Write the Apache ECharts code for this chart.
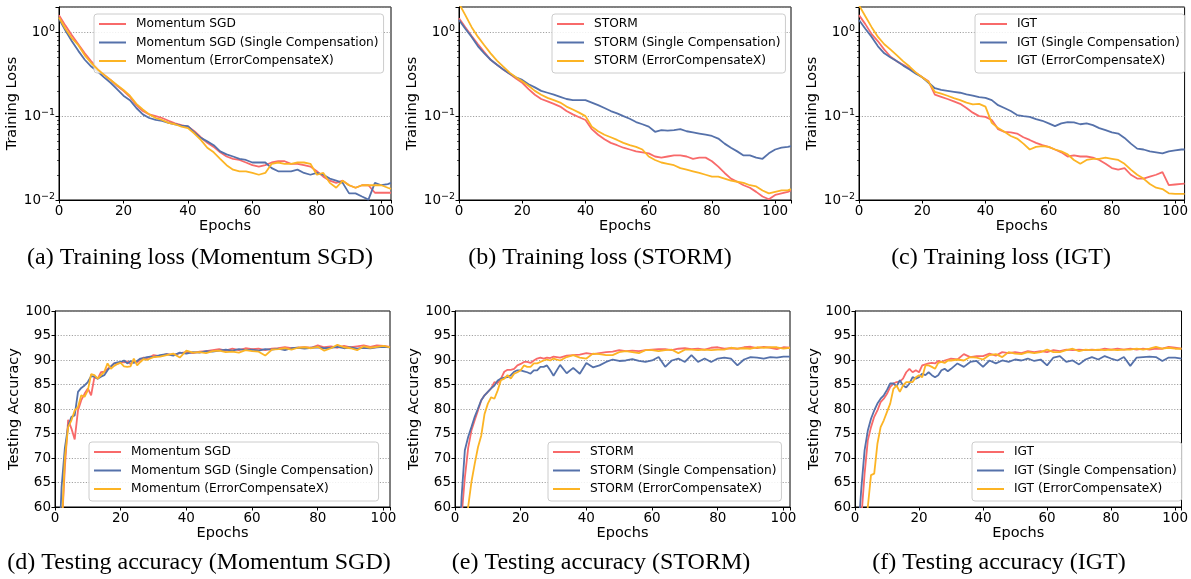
<!DOCTYPE html>
<html>
<head>
<meta charset="utf-8">
<script src="https://cdn.jsdelivr.net/npm/echarts@6/dist/echarts.min.js"></script>
<style>html,body{margin:0;padding:0;background:#fff;}#c{width:1191px;height:579px;}</style>
</head>
<body>
<div id="c"></div>
<script>
// ---------- names ----------
const namesMom = ['Momentum SGD', 'Momentum SGD (Single Compensation)', 'Momentum (ErrorCompensateX)'];
const namesStorm = ['STORM', 'STORM (Single Compensation)', 'STORM (ErrorCompensateX)'];
const namesIgt = ['IGT', 'IGT (Single Compensation)', 'IGT (ErrorCompensateX)'];
const captions = ['(a) Training loss (Momentum SGD)', '(b) Training loss (STORM)', '(c) Training loss (IGT)',
  '(d) Testing accuracy (Momentum SGD)', '(e) Testing accuracy (STORM)', '(f) Testing accuracy (IGT)'];
const logMinorTicks = [0.02,0.03,0.04,0.05,0.06,0.07,0.08,0.09,0.2,0.3,0.4,0.5,0.6,0.7,0.8,0.9,2];

// ---------- training loss epochs ----------
const lossEpochsAC = [0,2,4,6,8,10,12,14,16,18,20,22,24,26,28,30,32,34,36,38,40,42,44,46,48,50,52,54,56,58,60,62,64,66,68,70,72,74,76,78,80,82,84,86,88,90,92,94,96,98,100,102,103];
const lossEpochsB = [0,2,4,6,8,10,12,14,16,18,20,22,24,26,28,30,32,34,36,38,40,42,44,46,48,50,52,54,56,58,60,62,64,66,68,70,72,74,76,78,80,82,84,86,88,90,92,94,96,98,100,102,104,105];

// (a) Momentum SGD training loss
const lossMomSgd = [1.6,1.2,0.92,0.72,0.56,0.45,0.37,0.31,0.27,0.23,0.2,0.17,0.135,0.115,0.105,0.1,0.095,0.088,0.082,0.078,0.075,0.066,0.056,0.048,0.043,0.037,0.033,0.031,0.03,0.028,0.026,0.025,0.026,0.028,0.029,0.029,0.027,0.027,0.026,0.025,0.022,0.019,0.017,0.016,0.017,0.015,0.014,0.015,0.015,0.0122,0.0122,0.0122,0.0122];
const lossMomSingle = [1.45,1.05,0.78,0.6,0.47,0.39,0.34,0.29,0.25,0.21,0.175,0.155,0.125,0.105,0.095,0.09,0.088,0.083,0.08,0.077,0.076,0.064,0.055,0.05,0.045,0.038,0.035,0.033,0.031,0.03,0.028,0.028,0.028,0.024,0.022,0.022,0.022,0.023,0.021,0.02,0.021,0.02,0.018,0.017,0.016,0.012,0.012,0.011,0.0101,0.016,0.015,0.0155,0.016];
const lossMomEcx = [1.5,1.1,0.85,0.7,0.53,0.43,0.36,0.31,0.27,0.235,0.205,0.175,0.14,0.12,0.105,0.095,0.09,0.083,0.08,0.075,0.072,0.062,0.052,0.042,0.037,0.031,0.026,0.023,0.022,0.022,0.021,0.02,0.021,0.027,0.028,0.027,0.027,0.028,0.028,0.027,0.02,0.021,0.016,0.014,0.017,0.015,0.014,0.015,0.015,0.015,0.015,0.014,0.0136];

// (b) STORM training loss
const lossStorm = [1.47,1.15,0.9,0.72,0.58,0.47,0.41,0.36,0.32,0.28,0.25,0.21,0.18,0.16,0.15,0.14,0.13,0.115,0.105,0.097,0.09,0.07,0.06,0.053,0.048,0.045,0.042,0.04,0.038,0.037,0.036,0.033,0.032,0.033,0.034,0.034,0.033,0.031,0.032,0.032,0.029,0.025,0.021,0.018,0.0165,0.015,0.014,0.0125,0.011,0.0102,0.0115,0.012,0.0125,0.013];
const lossStormSingle = [1.4,1.1,0.88,0.68,0.56,0.47,0.41,0.36,0.32,0.29,0.27,0.24,0.22,0.2,0.19,0.18,0.17,0.16,0.155,0.155,0.155,0.145,0.135,0.125,0.115,0.108,0.1,0.093,0.085,0.08,0.075,0.065,0.068,0.067,0.068,0.07,0.066,0.064,0.062,0.06,0.058,0.054,0.047,0.042,0.038,0.034,0.034,0.032,0.031,0.036,0.04,0.042,0.043,0.044];
const lossStormEcx = [2.2,1.6,1.15,0.88,0.7,0.56,0.46,0.39,0.33,0.29,0.26,0.23,0.2,0.18,0.165,0.155,0.145,0.13,0.12,0.11,0.1,0.075,0.066,0.06,0.056,0.052,0.048,0.045,0.043,0.04,0.033,0.03,0.028,0.027,0.026,0.024,0.023,0.022,0.021,0.02,0.019,0.019,0.018,0.017,0.0165,0.016,0.015,0.0145,0.013,0.012,0.0125,0.013,0.013,0.0135];

// (c) IGT training loss
const lossIgt = [1.6,1.25,0.95,0.78,0.62,0.51,0.45,0.41,0.37,0.33,0.29,0.26,0.18,0.17,0.16,0.15,0.14,0.125,0.11,0.1,0.098,0.09,0.07,0.065,0.064,0.062,0.056,0.052,0.048,0.045,0.043,0.04,0.037,0.033,0.034,0.033,0.033,0.032,0.03,0.027,0.024,0.023,0.024,0.02,0.018,0.018,0.019,0.02,0.0215,0.015,0.0153,0.0156,0.0157];
const lossIgtSingle = [1.4,1.1,0.88,0.68,0.56,0.5,0.45,0.4,0.36,0.32,0.29,0.25,0.215,0.205,0.2,0.195,0.19,0.182,0.175,0.168,0.165,0.155,0.135,0.125,0.115,0.103,0.1,0.098,0.092,0.088,0.082,0.076,0.082,0.085,0.084,0.08,0.082,0.078,0.072,0.068,0.064,0.062,0.055,0.047,0.041,0.04,0.038,0.037,0.036,0.038,0.039,0.04,0.04];
const lossIgtEcx = [2.1,1.55,1.15,0.88,0.72,0.62,0.53,0.45,0.39,0.33,0.29,0.255,0.195,0.185,0.175,0.164,0.155,0.145,0.138,0.14,0.13,0.083,0.072,0.065,0.058,0.054,0.047,0.04,0.043,0.044,0.043,0.04,0.038,0.035,0.03,0.027,0.03,0.031,0.031,0.032,0.031,0.03,0.027,0.023,0.02,0.018,0.0155,0.014,0.0135,0.012,0.0118,0.0118,0.0118];

// ---------- testing accuracy epochs ----------
const accEpochs = [1,2,3,4,5,6,7,8,9,10,11,12,13,14,15,16,17,18,19,20,21,22,23,24,25,26,27,28,29,30,32,34,36,38,40,42,44,46,48,50,52,54,56,58,60,62,64,66,68,70,72,74,76,78,80,82,84,86,88,90,92,94,96,98,100,102];

// (d) Momentum SGD accuracy
const accMomSgd = [40,55,68,77.8,76,73.8,79.7,81.8,83.1,84.2,82.8,86.5,86.2,87.5,87.6,88.2,88.6,89.3,89.2,89.6,89.5,89.7,89.2,89.8,89.5,90.1,90.5,90.4,90.6,91.0,90.8,91.2,91.0,91.4,91.6,91.4,91.7,91.8,92.0,92.2,91.9,92.3,92.0,92.4,92.2,92.3,92.0,92.3,92.4,92.6,92.4,92.5,92.6,92.5,93.0,92.6,92.8,92.5,92.9,92.6,92.8,93.0,92.7,93.0,92.9,92.7];
const accMomSingle = [48,64,72,76.5,78.4,78.7,83.5,84.3,84.8,85.5,86.7,86.6,86.2,86.6,86.9,87.9,88.7,89.3,89.5,89.6,89.9,89.3,89.8,89.4,89.8,90.3,90.4,90.6,90.7,90.6,91.0,91.2,90.9,91.5,91.3,91.6,91.5,91.8,91.7,91.9,92.1,91.9,92.2,92.0,92.1,91.9,92.2,92.1,92.3,92.0,92.4,92.5,92.3,92.5,92.6,92.4,92.5,92.7,92.4,92.6,92.3,92.5,92.4,92.6,92.7,92.6];
const accMomEcx = [38,55,70,76.3,77.7,79.7,80.4,82.8,82.5,83.8,87.1,86.9,86.2,86.9,87.6,89.3,88.2,88.8,89.2,89.4,88.7,88.6,88.7,90.3,88.9,89.6,90.2,90.0,90.3,90.6,90.7,91.0,91.3,90.5,91.9,91.5,91.6,91.4,91.8,91.9,91.6,91.7,91.5,92.0,91.8,91.7,90.9,92.1,92.2,92.4,92.1,92.5,92.6,92.4,92.7,91.9,92.4,93.1,92.6,92.4,92.0,92.8,92.5,92.7,92.9,92.6];

// (e) STORM accuracy
const accStorm = [40,58,66,72,75.6,77.7,79.7,81.8,82.8,83.5,84.2,85.5,85.3,86.2,87.6,88.0,88.0,88.2,88.9,89.2,89.6,89.6,89.4,89.9,90.3,90.5,90.3,90.5,90.4,90.7,90.5,90.9,91.0,91.1,91.4,91.2,91.4,91.6,91.7,92.0,91.8,91.9,91.8,92.0,92.1,92.2,92.2,92.0,92.3,92.4,92.2,92.3,92.1,92.5,92.6,92.3,92.4,92.3,92.6,92.7,92.4,92.7,92.5,92.2,92.6,92.5];
const accStormSingle = [45,62,71.6,74.3,76.3,78.4,80.1,81.8,82.8,83.5,84.2,84.8,85.8,86.2,86.4,86.5,86.9,87.6,87.9,87.9,87.7,87.5,87.2,87.9,87.9,88.6,88.6,88.9,87.9,86.8,89.0,87.3,88.4,87.2,89.4,88.5,88.9,89.6,90.1,89.8,89.9,90.2,89.8,89.6,89.9,90.6,88.6,89.9,90.3,89.6,91.0,89.6,90.3,89.6,90.3,90.5,90.3,88.9,90.1,90.6,90.5,90.3,90.6,90.5,90.7,90.7];
const accStormEcx = [30,40,52,60,65.1,68.8,72.2,74.6,79.0,81.1,82.4,82.1,83.8,85.9,86.2,86.9,86.2,87.2,87.5,87.9,88.9,88.6,88.6,89.3,89.3,89.6,89.9,90.1,89.9,90.3,89.9,90.6,91.0,90.5,90.3,91.3,91.2,91.0,91.0,91.6,91.8,91.6,91.4,92.0,92.0,91.8,92.0,92.1,91.4,92.1,92.1,92.0,92.1,92.0,92.1,92.1,92.5,92.3,92.4,92.3,92.6,92.5,92.6,92.6,92.3,92.5];

// (f) IGT accuracy
const accIgt = [40,58,66.8,73.6,76.3,78.4,79.7,81.4,82.1,83.1,84.5,85.2,85.5,85.6,86.2,87.5,88.2,87.5,87.9,87.5,88.9,89.1,89.3,89.4,89.3,89.8,89.6,89.9,90.1,90.3,90.1,91.2,90.6,90.8,90.8,91.3,90.9,91.6,91.4,91.6,91.4,91.8,91.6,91.8,91.6,92.0,91.8,92.1,92.0,92.1,92.0,92.1,92.0,92.3,92.1,92.3,92.1,92.3,92.1,92.3,92.1,92.3,92.3,92.7,92.5,92.3];
const accIgtSingle = [55,64,71.6,75.6,78.0,79.7,81.1,82.1,82.8,83.9,85.2,85.2,84.6,85.9,84.8,84.4,85.2,86.5,86.2,86.5,87.2,86.9,87.5,86.9,86.5,86.9,87.9,88.2,87.7,88.2,89.3,88.6,89.6,89.8,88.6,89.9,89.3,89.9,89.6,90.1,89.9,90.3,89.8,90.1,88.9,90.5,90.8,89.6,89.9,89.1,90.1,90.6,90.1,90.8,90.3,89.9,90.6,88.8,90.5,90.6,90.7,90.6,89.8,90.5,90.5,90.3];
const accIgtEcx = [30,40,52,60,66.5,66.8,72.9,76.3,77.7,79.4,81.1,84.1,84.8,83.5,84.8,85.5,85.5,85.5,86.5,86.9,86.5,88.9,88.9,88.6,88.2,89.4,89.6,89.4,89.9,89.9,90.1,89.9,90.6,90.5,90.1,91.0,91.2,90.6,91.6,91.3,91.2,91.6,91.4,91.6,92.1,91.6,91.6,92.0,92.3,91.8,92.1,92.0,92.1,92.0,92.1,92.0,92.1,92.1,92.3,92.1,92.3,92.7,92.3,92.5,92.3,92.3];

// ---------- build ----------
const colors = ['#f86a6a', '#5571aa', '#fcb424'];
const FONT = 'DejaVu Sans';
const TICKFS = 13.5;
const pairs = (xs, ys) => xs.map((x, i) => [x, ys[i]]);

const panels = [
  {grid: {left: 59, top: 7, width: 332, height: 193}, xmax: 103, log: true, names: namesMom, xs: lossEpochsAC, ys: [lossMomSgd, lossMomSingle, lossMomEcx], legend: {left: 94, top: 14}},
  {grid: {left: 459, top: 7, width: 332, height: 193}, xmax: 105, log: true, names: namesStorm, xs: lossEpochsB, ys: [lossStorm, lossStormSingle, lossStormEcx], legend: {left: 552, top: 14}},
  {grid: {left: 859, top: 7, width: 331, height: 193}, xmax: 103, log: true, names: namesIgt, xs: lossEpochsAC, ys: [lossIgt, lossIgtSingle, lossIgtEcx], legend: {left: 975, top: 14}},
  {grid: {left: 55, top: 311, width: 335, height: 196}, xmax: 102, log: false, names: namesMom, xs: accEpochs, ys: [accMomSgd, accMomSingle, accMomEcx], legend: {left: 89, top: 442}},
  {grid: {left: 455, top: 311, width: 335, height: 196}, xmax: 102, log: false, names: namesStorm, xs: accEpochs, ys: [accStorm, accStormSingle, accStormEcx], legend: {left: 548, top: 442}},
  {grid: {left: 855, top: 311, width: 335, height: 196}, xmax: 102, log: false, names: namesIgt, xs: accEpochs, ys: [accIgt, accIgtSingle, accIgtEcx], legend: {left: 972, top: 442}}
];
const captionPos = [[200, 258], [600, 258], [1001, 258], [199, 563], [601, 563], [999, 563]];

const logFmt = v => {
  const l = Math.log10(v); const e = Math.round(l);
  if (Math.abs(l - e) > 1e-6) return '';
  return '{b|10}{s|' + (e < 0 ? '\u2212' + (-e) : String(e)) + '}';
};

const grids = [], xAxes = [], yAxes = [], minorAxes = [], series = [], legends = [], graphics = [];
panels.forEach((p, i) => {
  grids.push(Object.assign({show: true, borderColor: '#000', borderWidth: 1, backgroundColor: 'transparent', containLabel: false}, p.grid));
  xAxes.push({
    type: 'value', gridIndex: i, min: 0, max: p.xmax, interval: 20,
    name: 'Epochs', nameLocation: 'middle', nameGap: 14,
    nameTextStyle: {fontSize: 14.5, color: '#000', fontFamily: FONT},
    axisLine: {show: true, onZero: false, lineStyle: {color: '#000', width: 1}},
    axisTick: {show: true, inside: false, length: 3.5, lineStyle: {color: '#000', width: 1}},
    axisLabel: {margin: 4, color: '#000', fontSize: TICKFS, fontFamily: FONT, showMaxLabel: true,
      formatter: v => (Math.abs(v % 20) < 1e-9 ? String(v) : '')},
    splitLine: {show: false}
  });
  const splitLine = {show: true, lineStyle: {color: '#8a8a8a', width: 0.8, type: [1.2, 1.6]}};
  if (p.log) {
    yAxes.push({
      type: 'log', logBase: 10, gridIndex: i, min: 0.01, max: 2,
      name: 'Training Loss', nameLocation: 'middle', nameGap: 35,
      nameTextStyle: {fontSize: 14.5, color: '#000', fontFamily: FONT},
      axisLine: {show: true, lineStyle: {color: '#000', width: 1}},
      axisTick: {show: true, inside: false, length: 3.5, lineStyle: {color: '#000', width: 1}},
      axisLabel: {margin: 4, color: '#000', formatter: logFmt,
        rich: {b: {fontSize: TICKFS, fontFamily: FONT, color: '#000', lineHeight: 17},
               s: {fontSize: 9.5, fontFamily: FONT, color: '#000', verticalAlign: 'top', lineHeight: 10}}},
      splitLine: splitLine
    });
    minorAxes.push({
      type: 'log', logBase: 10, gridIndex: i, min: 0.01, max: 2, position: 'left',
      axisLine: {show: false},
      axisTick: {show: true, inside: false, length: 2, customValues: logMinorTicks, lineStyle: {color: '#000', width: 0.7}},
      axisLabel: {show: false}, splitLine: {show: false}
    });
  } else {
    yAxes.push({
      type: 'value', gridIndex: i, min: 60, max: 100, interval: 5,
      name: 'Testing Accuracy', nameLocation: 'middle', nameGap: 31,
      nameTextStyle: {fontSize: 14.5, color: '#000', fontFamily: FONT},
      axisLine: {show: true, lineStyle: {color: '#000', width: 1}},
      axisTick: {show: true, inside: false, length: 3.5, lineStyle: {color: '#000', width: 1}},
      axisLabel: {margin: 4, color: '#000', fontSize: TICKFS, fontFamily: FONT},
      splitLine: splitLine
    });
  }
  p.names.forEach((n, k) => {
    series.push({
      type: 'line', name: n, xAxisIndex: i, yAxisIndex: i,
      data: pairs(p.xs, p.ys[k]), showSymbol: false, symbol: 'none', clip: true,
      lineStyle: {width: 1.8, color: colors[k]}, itemStyle: {color: colors[k]},
      z: 2 + k, animation: false
    });
  });
  legends.push({
    data: p.names, left: p.legend.left, top: p.legend.top, orient: 'vertical',
    itemWidth: 27, itemHeight: 12, itemGap: 6.5, padding: [4, 5, 6, 4],
    backgroundColor: 'rgba(255,255,255,0.85)', borderColor: '#cccccc', borderWidth: 1, borderRadius: 3,
    selectedMode: false,
    itemStyle: {opacity: 0},
    lineStyle: {width: 2},
    textStyle: {fontSize: 12.2, fontFamily: FONT, color: '#000', padding: [0, 0, 0, 5]}
  });
  graphics.push({
    type: 'text', x: captionPos[i][0], y: captionPos[i][1],
    style: {text: captions[i], x: 0, y: 0, fontSize: 24, fontFamily: 'Liberation Serif', fill: '#000',
      align: 'center', verticalAlign: 'middle', textAlign: 'center', textVerticalAlign: 'middle'}
  });
});

const chart = echarts.init(document.getElementById('c'), null, {renderer: 'canvas'});
chart.setOption({
  animation: false,
  backgroundColor: '#fff',
  grid: grids, xAxis: xAxes, yAxis: yAxes.concat(minorAxes), series: series, legend: legends,
  graphic: graphics
});
</script>
</body>
</html>
